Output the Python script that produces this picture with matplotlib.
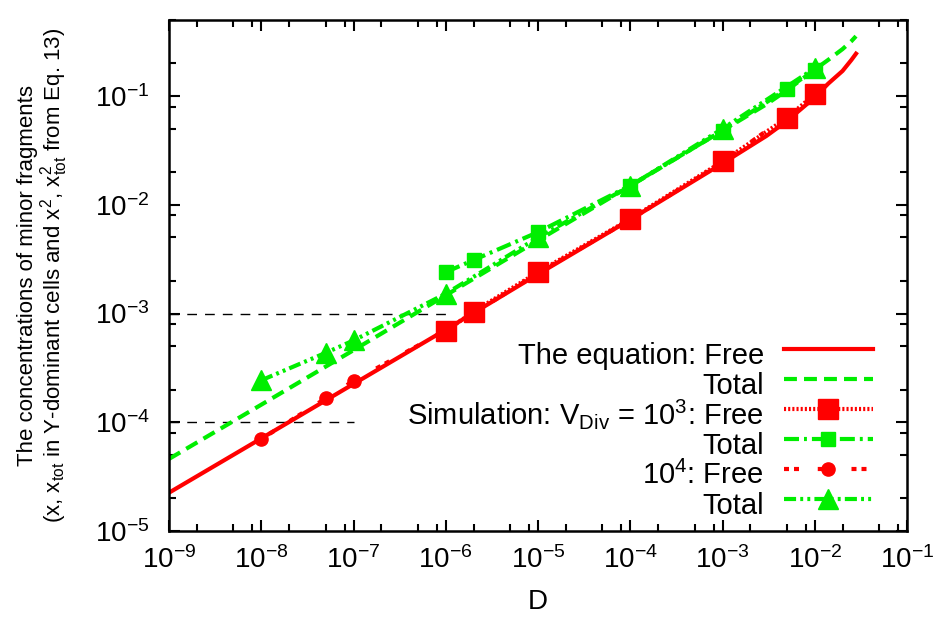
import matplotlib
matplotlib.use("Agg")
import matplotlib.pyplot as plt
from matplotlib.ticker import LogLocator, NullFormatter

plt.rcParams['font.family'] = ['Liberation Sans', 'DejaVu Sans']
plt.rcParams['mathtext.fontset'] = 'custom'
plt.rcParams['mathtext.rm'] = 'Liberation Sans'
plt.rcParams['mathtext.it'] = 'Liberation Sans:italic'
plt.rcParams['mathtext.bf'] = 'Liberation Sans:bold'

# analytic curves
D_eq = [1e-9, 1e-8, 1e-7, 1e-6, 1e-5, 1e-4, 1e-3, 3e-3, 5e-3, 1e-2, 1.4e-2, 2e-2, 2.5e-2, 2.8e-2]
free_eq = [2.25e-5, 7.1e-5, 2.25e-4, 7.1e-4, 2.3e-3, 7.3e-3, 2.4e-2, 4.3e-2, 5.9e-2, 0.097, 0.13, 0.17, 0.215, 0.245]
total_eq = [4.6e-5, 1.45e-4, 4.6e-4, 1.47e-3, 4.7e-3, 1.49e-2, 4.8e-2, 8.4e-2, 0.113, 0.175, 0.215, 0.27, 0.32, 0.355]

# simulation, V_Div = 10^3
D_v3 = [1e-6, 2e-6, 1e-5, 1e-4, 1e-3, 5e-3, 1e-2]
free_v3 = [6.9e-4, 1.04e-3, 2.4e-3, 7.4e-3, 2.5e-2, 6.3e-2, 0.104]
total_v3 = [2.4e-3, 3.1e-3, 5.6e-3, 1.5e-2, 4.8e-2, 0.116, 0.175]

# simulation, V_Div = 10^4
D_v4 = [1e-8, 5e-8, 1e-7, 1e-6, 1e-5, 1e-4, 1e-3, 1e-2]
free_v4 = [7.0e-5, 1.66e-4, 2.4e-4, 7.0e-4, 2.35e-3, 7.3e-3, 2.45e-2, 0.10]
total_v4 = [2.43e-4, 4.35e-4, 5.65e-4, 1.52e-3, 5.0e-3, 1.49e-2, 5.0e-2, 0.18]

# black dashed guide lines
guide_D_hi = [1e-9, 1e-6]
guide_y_hi = [1e-3, 1e-3]
guide_D_lo = [1e-9, 1e-7]
guide_y_lo = [1e-4, 1e-4]

RED = '#ff0000'
GREEN = '#00ee00'
lw = 3.0

fig = plt.figure(figsize=(9.35, 6.17), dpi=100)
ax = fig.add_axes([169 / 935, 1 - 531 / 617, (907 - 169) / 935, (531 - 20) / 617])

ax.plot(guide_D_hi, guide_y_hi, color='black', lw=1.0, ls=(0, (7, 5.8)))
ax.plot(guide_D_lo, guide_y_lo, color='black', lw=1.0, ls=(0, (7, 5.8)))

ax.plot(D_eq, free_eq, color=RED, lw=lw, ls='-', label='The equation: Free')
ax.plot(D_eq, total_eq, color=GREEN, lw=lw, ls=(0, (3.1, 1.7)), label='Total')
ax.plot(D_v3, free_v3, color=RED, lw=lw, ls=(0, (0.5, 0.5)), marker='s', ms=14,
        label=r'Simulation: $\mathregular{V_{Div}}$ = $\mathregular{10^3}$: Free')
ax.plot(D_v3, total_v3, color=GREEN, lw=lw, ls=(0, (3.6, 1.2, 0.7, 1.2)), marker='s', ms=9.5,
        label='Total')
ax.plot(D_v4, free_v4, color=RED, lw=lw, ls=(0, (1.2, 1.2, 1.2, 4.5)), marker='o', ms=9.5,
        label=r'$\mathregular{10^4}$: Free')
ax.plot(D_v4, total_v4, color=GREEN, lw=lw, ls=(0, (2.9, 1.0, 0.7, 1.0, 0.7, 1.0)), marker='^', ms=15,
        label='Total')

ax.set_xscale('log')
ax.set_yscale('log')
ax.set_xlim(1e-9, 1e-1)
ax.set_ylim(1e-5, 0.5)
for axis in (ax.xaxis, ax.yaxis):
    axis.set_major_locator(LogLocator(base=10, numticks=20))
    axis.set_minor_locator(LogLocator(base=10, subs=(2, 5, 8), numticks=20))
    axis.set_minor_formatter(NullFormatter())

ax.tick_params(which='both', direction='in', top=True, right=True, width=1.5, labelsize=20)
ax.tick_params(which='major', length=8)
ax.tick_params(which='minor', length=5)
ax.tick_params(axis='y', which='major', pad=14)
ax.tick_params(axis='x', which='major', pad=11)
for s in ax.spines.values():
    s.set_linewidth(1.8)

ax.set_xlabel('D', fontsize=20, labelpad=11)
ax.set_ylabel('The concentrations of minor fragments\n'
              r'(x, $\mathregular{x_{tot}}$ in Y-dominant cells and $\mathregular{x^2}$, '
              r'$\mathregular{x^2_{tot}}$ from Eq. 13)', fontsize=16, linespacing=1.0)
ax.yaxis.set_label_coords(-0.134, 0.5)

ax.legend(loc='upper right', bbox_to_anchor=(0.954, 0.385), frameon=False, markerfirst=False,
          numpoints=1, fontsize=21, handlelength=3.06, handletextpad=0.68, handleheight=1.8,
          labelspacing=-0.39, borderpad=0, borderaxespad=0)

fig.savefig('out.png', dpi=100)
